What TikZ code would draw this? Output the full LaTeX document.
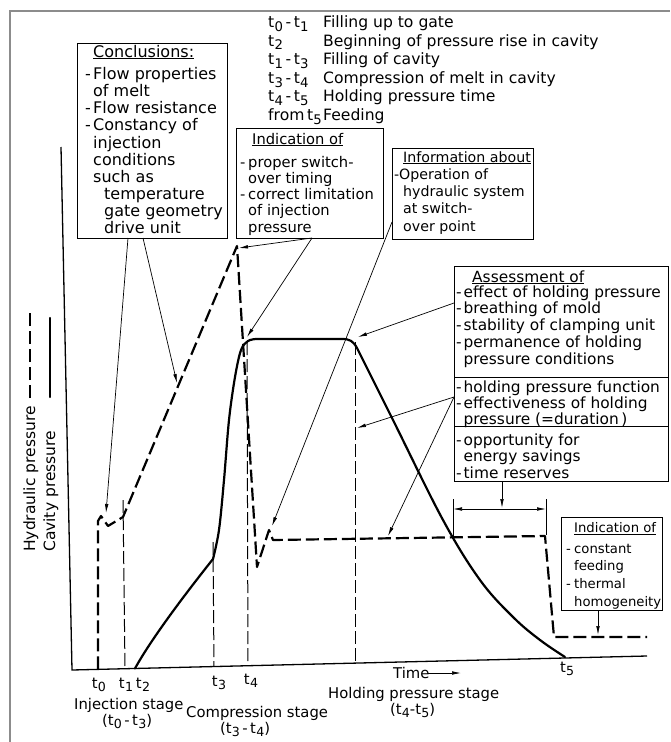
\documentclass[tikz,border=0pt]{standalone}
\usepackage{fontspec}
\usepackage{graphicx}
\setmainfont{DejaVu Sans}
\usetikzlibrary{arrows.meta}

% t with a lowered index, as in t_0
\newcommand\tsub[1]{t\kern0.2pt\raisebox{-0.45ex}{\scalebox{0.85}{#1}}}
% dash that opens a list entry, and the matching indent for run-on lines
\newcommand\dsh[1][8pt]{\makebox[#1][l]{-}}
\newcommand\ind[1][8pt]{\hspace*{#1}}
\newcommand\fs[2]{\fontsize{#1}{#2}\selectfont}

\tikzset{
  frame/.style={draw=black!45, line width=1.1pt},
  panel/.style={draw, line width=0.9pt, anchor=north west, inner sep=0pt, outer sep=0pt},
  txt/.style={inner sep=0pt, anchor=base west},
  cav/.style={line width=2.2pt, line join=round, line cap=round},
  hyd/.style={line width=2.2pt, dash pattern=on 13pt off 5pt, line join=round},
  marker/.style={line width=1.0pt, dash pattern=on 13pt off 4pt},
  pointer/.style={line width=0.7pt, -{Latex[length=9pt,width=3.6pt]}},
  axisline/.style={line width=1.3pt, line join=miter},
}

\begin{document}
\begin{tikzpicture}[x=1pt, y=-1pt]
\fill[white] (0,0) rectangle (670,742);
\useasboundingbox (0,0) rectangle (670,742);

% page edge
\draw[frame] (10,742) -- (10,11) -- (670,11);

% ---------- legend of time marks ----------
\node[txt, font=\fs{15.6}{18.6}] (legend) at (268,27.5) {\begin{tabular}[t]{@{}p{55pt}@{}l@{}}
\tsub0\,-\,\tsub1 & Filling up to gate\\
\tsub2 & Beginning of pressure rise in cavity\\
\tsub1\,-\,\tsub3 & Filling of cavity\\
\tsub3\,-\,\tsub4 & Compression of melt in cavity\\
\tsub4\,-\,\tsub5 & Holding pressure time\\
from\,\tsub5 & Feeding
\end{tabular}};

% ---------- boxes ----------
\node[panel, minimum width=150pt, minimum height=195pt] (concl) at (77,43) {};
\node[txt, font=\fs{16}{16.9}] (conclT) at (85,57) {\begin{tabular}[t]{@{}l@{}}
\ind\underline{Conclusions:}\\[5pt]
\dsh Flow properties\\
\ind of melt\\
\dsh Flow resistance\\
\dsh Constancy of\\
\ind injection\\
\ind conditions\\
\ind such as\\
\ind[19pt]temperature\\
\ind[19pt]gate geometry\\
\ind[19pt]drive unit
\end{tabular}};

\node[panel, minimum width=147pt, minimum height=110pt] (indic) at (236,128) {};
\node[txt, font=\fs{14.7}{16.2}] (indicT) at (240,144) {\begin{tabular}[t]{@{}l@{}}
\ind[12pt]\underline{Indication of}\\[7pt]
\dsh proper switch-\\
\ind over timing\\
\dsh correct limitation\\
\ind of injection\\
\ind pressure
\end{tabular}};

\node[panel, minimum width=141pt, minimum height=91pt] (info) at (392,148) {};
\node[txt, font=\fs{14.2}{17.3}] (infoT) at (394,162) {\begin{tabular}[t]{@{}l@{}}
\ind[9pt]\underline{Information about}\\
\dsh[5pt]Operation of\\
\ind[9pt]hydraulic system\\
\ind[9pt]at switch-\\
\ind[9pt]over point
\end{tabular}};

\node[panel, minimum width=214pt, minimum height=111pt] (assess1) at (454,266) {};
\node[panel, minimum width=214pt, minimum height=49pt] (assess2) at (454,377) {};
\node[panel, minimum width=214pt, minimum height=55pt] (assess3) at (454,426) {};
\node[txt, font=\fs{15.4}{16.7}] (assess1T) at (456,282) {\begin{tabular}[t]{@{}l@{}}
\ind[16pt]\underline{Assessment of}\\[-1.5pt]
\dsh[7.5pt]effect of holding pressure\\
\dsh[7.5pt]breathing of mold\\
\dsh[7.5pt]stability of clamping unit\\
\dsh[7.5pt]permanence of holding\\
\ind[7.5pt]pressure conditions
\end{tabular}};
\node[txt, font=\fs{15.4}{15.8}] (assess2T) at (456,392) {\begin{tabular}[t]{@{}l@{}}
\dsh[7.5pt]holding pressure function\\
\dsh[7.5pt]effectiveness of holding\\
\ind[7.5pt]pressure (=duration\,)
\end{tabular}};
\node[txt, font=\fs{15.4}{16.5}] (assess3T) at (456,445) {\begin{tabular}[t]{@{}l@{}}
\dsh[7.5pt]opportunity for\\
\ind[7.5pt]energy savings\\
\dsh[7.5pt]time reserves
\end{tabular}};

\node[panel, minimum width=101pt, minimum height=93pt] (indic2) at (561,517) {};
\node[txt, font=\fs{13.2}{17.7}] (indic2T) at (566,532.5) {\begin{tabular}[t]{@{}l@{}}
\ind[8pt]\underline{Indication of}\\[2.8pt]
\dsh constant\\
\ind feeding\\
\dsh thermal\\
\ind homogeneity
\end{tabular}};

% ---------- axes ----------
\draw[axisline] (61,147) -- (72,670) -- (647,656);

% axis captions with their line samples
\node[txt, rotate=90, font=\fs{15.5}{16}] (hydlab) at (35,552) {Hydraulic pressure};
\node[txt, rotate=90, font=\fs{15.5}{16}] (cavlab) at (55,552) {Cavity pressure};
\draw[hyd] (30,398) -- (30,313);
\draw[cav] (50,397) -- (50,318);

% ---------- time marks ----------
\draw[marker] (123,500) -- (125,668.7);
\draw[marker] (213,542) -- (214,666.5);
\draw[marker] (247,342) -- (248,665.7);
\draw[marker] (355,342) -- (355,663.1);

% ---------- cavity pressure ----------
\draw[cav] (135,668.5) .. controls (150,641) and (182,598) .. (213,559)
  -- plot[smooth, tension=0.55] coordinates {(213,559) (219,530) (224,480) (229,420) (235,377) (241,350) (248,341) (256,339)}
  -- (342,339)
  .. controls (350,339) and (353,341) .. (357,348)
  -- plot[smooth, tension=0.6] coordinates {(357,348) (393,420) (443,520) (480,580) (513,617) (540,640) (565,657)};

% ---------- hydraulic pressure ----------
\draw[hyd] (98,669.4) -- (98,521) -- (101,516) -- (108,526) -- (123,517)
  -- (237,246) -- (257,567) -- (269,530) -- (273,540) -- (545,536)
  -- (554,637) -- (647,637);

% ---------- targets of the pointers ----------
\coordinate (spike0) at (106,513);
\coordinate (riseP) at (177,383);
\coordinate (peakH) at (239,248);
\coordinate (plateauA) at (247,337);
\coordinate (kickH) at (272,526);
\coordinate (plateauB) at (358,337);
\coordinate (holdMark) at (357,428);
\coordinate (holdLevel) at (388,536);
\coordinate (dimMid) at (502,508);
\coordinate (feedLevel) at (598,635);
\coordinate (dimL) at (453,509);
\coordinate (dimR) at (546,509);
\coordinate (timeA) at (428,673);
\coordinate (timeB) at (461,673);

\draw[pointer] (concl.south -| 128,0) -- (spike0);
\draw[pointer] (concl.south -| 143,0) -- (riseP);
\draw[pointer] (indic.south -| 312,0) -- (peakH);
\draw[pointer] (indic.south -| 312,0) -- (plateauA);
\draw[pointer] (info.west |- 0,222) -- (kickH);
\draw[pointer] (assess1.west |- 0,303) -- (plateauB);
\draw[pointer] (assess2.west |- 0,397) -- (holdMark);
\draw[pointer] (assess2.west |- 0,397) -- (holdLevel);
\draw[pointer] (assess3.south -| 502,0) -- (dimMid);
\draw[pointer] (indic2.south -| 598,0) -- (feedLevel);

% dimension of the time reserve
\draw[line width=0.7pt] (453,499) -- (453,537);
\draw[line width=0.7pt] (546,499) -- (546,535);
\draw[line width=0.7pt, {Latex[length=9pt,width=3.6pt]}-{Latex[length=9pt,width=3.6pt]}] (dimL) -- (dimR);

% ---------- labels under the time axis ----------
\node[txt, anchor=base, font=\fs{14.8}{16}] (lt0) at (99,688) {\tsub0};
\node[txt, anchor=base, font=\fs{14.8}{16}] (lt1) at (126,688) {\tsub1};
\node[txt, anchor=base, font=\fs{14.8}{16}] (lt2) at (143,688) {\tsub2};
\node[txt, anchor=base, font=\fs{14.8}{16}] (lt3) at (219,686) {\tsub3};
\node[txt, anchor=base, font=\fs{14.8}{16}] (lt4) at (251,684) {\tsub4};
\node[txt, anchor=base, font=\fs{14.8}{16}] (lt5) at (567,672) {\tsub5};

\node[txt, font=\fs{14.8}{16}] (timelab) at (393,678) {Time};
\draw[pointer] (timeA) -- (timeB);

\node[txt, font=\fs{14.8}{16}] (stage1) at (74,709) {Injection stage};
\node[txt, font=\fs{14.8}{16}] (stage1t) at (102,725) {(\tsub0\,-\,\tsub3)};
\node[txt, font=\fs{14.8}{16}] (stage2) at (186,717) {Compression stage};
\node[txt, font=\fs{14.8}{16}] (stage2t) at (220,733) {(\tsub3\,-\,\tsub4)};
\node[txt, font=\fs{14.8}{16}] (stage3) at (328,698) {Holding pressure stage};
\node[txt, font=\fs{14.8}{16}] (stage3t) at (390,714) {(\tsub4-\tsub5)};
\end{tikzpicture}
\end{document}
